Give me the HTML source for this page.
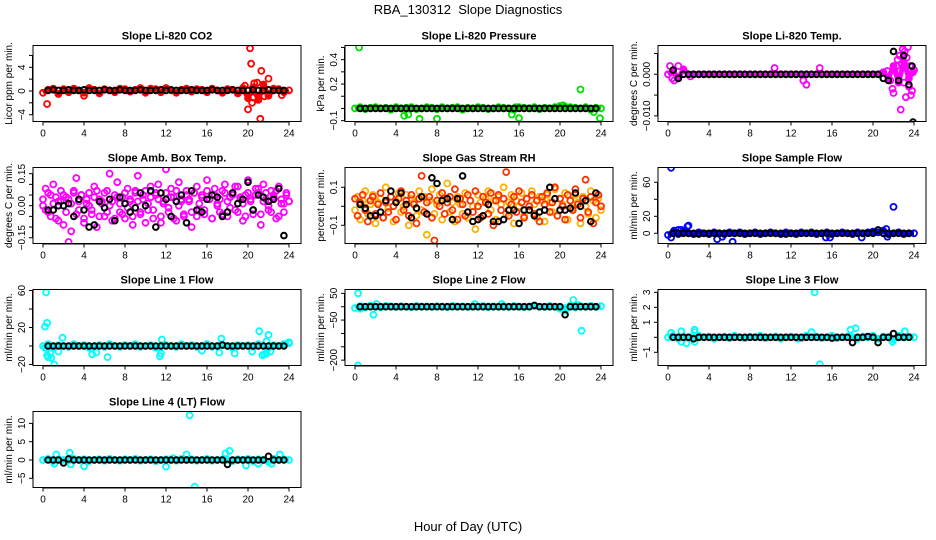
<!DOCTYPE html>
<html><head><meta charset="utf-8">
<style>
html,body{margin:0;padding:0;background:#fff;}
svg{display:block;font-family:"Liberation Sans",Arial,sans-serif;}
</style></head>
<body>
<svg id="chart" width="936" height="540" viewBox="0 0 936 540" xmlns="http://www.w3.org/2000/svg">
<rect width="936" height="540" fill="#fff"/>
<text x="468" y="14" font-size="13" text-anchor="middle">RBA_130312&#160; Slope Diagnostics</text>
<text x="468" y="531" font-size="13" text-anchor="middle">Hour of Day (UTC)</text>
</svg>
<script>
const xTicks=[0,4,8,12,16,20,24];

const co2Band=[-0.3,0.2,0.4,-0.5,0.3,-0.2,0.4,0.1,-0.3,0.5,0.2,-0.4,0.3,0.1,-0.2,0.4,0.3,-0.1,0.2,0.5,-0.3,0.4,0.3,-0.2,0.5,0.1,-0.3,0.2,0.4,-0.1,0.3,0.2,-0.2,0.4,0.1,-0.3,0.3,0.2,-0.4,0.5,-1.2,0.6,-1.5,1.1,-0.8,0.4,0.3,-0.2,0.1];
const co2Out=[[0.4,-2.2],[4,-0.8],[19.7,0.9],[20,-3.1],[20.2,7.2],[20.3,4.6],[20.4,-2],[20.5,-1.1],[20.6,1.3],[20.9,1.4],[21.2,-4.7],[21.3,3.4],[21.6,-0.9],[22,2.1],[23.3,-0.7]];
const co2Black=[0.1,0.2,0.1,0.1,0.2,0.1,0.1,0.2,0.1,0.1,0.1,0.2,0.1,0.1,0.2,0.1,0.1,0.1,0.2,0.1,0.1,0.1,0.2,0.1,0.2,0.1,0.1,0.1,0.2,0.1,0.1,0.1,0.2,0.1,0.1,0.1,0.2,0.1,0.1,0.1,0.2,0.1,0.1,0.2,0.1,0.1,0.1];

const presBand=[0.0,0.01,-0.005,0.005,0.01,0.0,0.005,-0.01,0.01,0.0,0.005,0.01,-0.005,0.0,0.01,0.005,-0.005,0.01,0.0,0.005,0.01,-0.01,0.005,0.0,0.01,0.005,-0.005,0.0,0.01,0.005,0.0,-0.01,0.01,0.005,0.0,0.01,-0.005,0.005,0.0,0.01,0.02,0.015,0.01,0.005,0.0,0.01,-0.01,0.005,0.0];
const presOut=[[0.4,0.5],[4.8,-0.06],[5.2,-0.05],[6.3,-0.085],[8,-0.085],[15.3,-0.05],[15.7,0.01],[16,-0.08],[20.3,0.025],[22,0.155],[23.3,-0.03],[23.9,-0.08]];
const presBlack=[0,0,0,0,0,0,0,0,0,0,0,0,0,0,0,0,0,0,0,0,0,0,0,0,0,0,0,0,0,0,0,0,0,0,0,0,0,0,0,0,0,0,0,0,0,0,0];

const ltBand=[0,0.0008,-0.001,0.0012,0,0,0,0,0,0,0,0,0,0,0,0,0,0,0,0,0,0,0,0,0,0,0,0,0,0,0,0,0,0,0,0,0,0,0,0,0,0,0.0005,-0.001,0.002,-0.002,0.003,-0.001,0.001];
const ltOut=[[0.2,0.002],[0.4,-0.001],[0.6,-0.0015],[1,0.002],[2.2,-0.0005],[10.4,0.0015],[13.2,-0.0015],[13.5,-0.0025],[14.8,0.0015],[21.4,0.0008],[21.7,-0.0015],[21.9,-0.0035],[22.0,-0.0045],[22.1,0.001],[22.3,0.002],[22.4,0.0035],[22.5,-0.0005],[22.6,0.0045],[22.7,-0.0085],[22.8,0.0025],[22.9,0.006],[23.0,-0.002],[23.1,0.0055],[23.2,-0.0055],[23.3,0.004],[23.4,0.0065],[23.5,-0.003],[23.6,0.002],[23.7,-0.005],[23.8,-0.004],[23.9,0.0005],[24,0.001]];
const ltBlack=[0.001,-0.001,0,0,0,0,0,0,0,0,0,0,0,0,0,0,0,0,0,0,0,0,0,0,0,0,0,0,0,0,0,0,0,0,0,0,0,0,0,0,0,-0.001,-0.0015,0.0055,-0.0015,0.0045,-0.0025];
const ltBlackOut=[[23.8,0.002],[23.9,-0.0115]];

const ambBand=[0.00,0.08,-0.03,0.05,0.10,-0.06,0.02,0.07,-0.09,0.04,0.03,-0.12,0.06,0.13,-0.02,0.05,-0.08,0.01,0.06,-0.04,0.09,-0.10,0.03,0.02,-0.05,0.07,0.00,-0.07,0.05,0.11,-0.03,0.04,-0.06,0.08,0.02,-0.09,0.06,0.14,-0.04,0.03,0.07,-0.02,0.09,-0.06,0.05,0.10,-0.08,0.01,0.06,-0.03,0.08,0.04,-0.07,0.11,0.02,-0.05,0.07,0.03,-0.10,0.06,0.09,-0.02,0.05,-0.04,0.12,0.03,-0.06,0.08,0.01,-0.03,0.07,0.10,-0.05,0.04,0.06,-0.02,0.09,0.03,-0.07,0.05,0.12,0.02,-0.04,0.08,0.06,-0.09,0.10,0.03,-0.02,0.07,0.05,-0.06,0.09,0.01,-0.03,0.06,0.02];
const ambBand2=[0.03,-0.02,0.06,-0.05,0.01,0.04,-0.07,0.02,0.05,-0.03,-0.17,0.01,0.07,-0.04,0.02,0.05,-0.06,0.03,0.00,-0.02,0.04,0.07,-0.05,0.01,0.06,-0.03,0.15,0.02,-0.06,0.04,0.01,-0.04,0.06,-0.01,0.03,-0.05,0.07,0.02,-0.03,0.05,-0.08,0.01,0.04,-0.02,0.06,0.03,-0.05,0.02,0.17,-0.01,0.04,-0.06,0.07,0.00,0.03,-0.04,0.05,0.02,-0.03,0.06,-0.05,0.01,0.04,-0.02,0.07,0.03,-0.06,0.05,0.00,0.03,-0.04,0.06,0.02,-0.01,0.05,0.09,-0.03,0.04,0.01,-0.05,0.06,0.03,-0.02,0.05,0.08,-0.04,0.02,0.06,0.00,-0.03,0.04,0.07,-0.05,0.03,0.01,0.05,0.02];
const ambBlack=[-0.02,-0.02,0.00,0.00,0.01,-0.05,0.03,-0.02,-0.10,-0.09,0.02,-0.01,0.03,-0.07,0.04,0.01,-0.03,-0.01,0.06,0.00,0.07,-0.10,0.06,0.03,-0.05,0.02,0.05,-0.08,0.07,-0.02,-0.03,0.03,0.05,0.04,-0.05,-0.03,0.06,0.01,0.03,0.11,-0.02,0.05,0.04,0.02,0.03,0.08,-0.14];

const rhBand=[-0.02,0.05,-0.07,0.03,0.08,-0.04,0.01,0.06,-0.09,0.02,0.04,-0.06,0.10,-0.01,0.05,-0.08,0.03,0.07,-0.03,0.00,0.06,-0.10,0.04,0.02,-0.05,0.08,-0.02,0.05,-0.15,0.03,0.09,-0.04,0.01,0.06,-0.07,0.04,0.12,-0.03,0.02,-0.08,0.05,0.01,-0.04,0.07,-0.06,0.03,0.00,-0.12,0.06,0.02,-0.05,0.04,0.08,-0.02,0.03,-0.07,0.05,0.01,0.10,-0.04,0.02,0.06,-0.09,0.03,0.00,0.07,-0.05,0.04,-0.02,0.08,0.01,-0.06,0.05,0.03,-0.08,0.06,0.02,-0.03,0.09,-0.05,0.04,0.01,0.07,-0.07,0.03,-0.01,0.06,0.02,-0.09,0.05,0.00,-0.04,0.08,0.03,-0.06,0.04,-0.02];
const rhBand2=[0.04,-0.05,0.02,0.06,-0.02,-0.08,0.03,0.05,-0.04,0.01,0.07,-0.06,0.02,-0.03,0.05,0.00,-0.07,0.04,0.08,-0.02,0.03,-0.05,0.06,0.01,-0.09,0.04,0.16,-0.03,0.02,0.05,-0.06,-0.18,0.03,0.00,0.07,-0.04,0.02,0.05,-0.02,0.09,-0.07,0.04,0.01,-0.05,0.06,0.03,-0.03,0.08,0.00,-0.06,0.05,0.02,-0.04,0.07,-0.10,0.03,0.06,-0.02,0.04,0.18,-0.05,0.01,0.05,-0.03,0.08,0.02,-0.06,0.04,0.00,0.06,-0.04,0.03,-0.08,0.05,0.01,0.07,-0.03,0.02,0.10,-0.05,0.04,0.00,-0.07,0.06,0.03,-0.02,0.09,0.01,-0.06,0.04,0.14,-0.03,0.05,-0.09,0.02,0.06,0.00];
const rhBlack=[0.01,-0.01,-0.05,-0.05,-0.03,0.03,0.08,0.02,0.07,0.01,-0.06,-0.01,0.05,-0.04,0.15,0.12,0.03,0.04,-0.07,0.04,0.16,-0.03,-0.08,-0.07,-0.05,0.01,-0.08,-0.08,-0.07,-0.02,-0.02,-0.09,-0.02,-0.02,-0.05,-0.03,-0.02,0.10,0.04,-0.02,-0.02,-0.01,0.07,0.00,0.03,-0.08,0.07];

const sfBand=[-2,1,-1,2,0,-1,1,0,-1,1,0,-1,1,0,1,-1,0,1,-1,0,1,0,-1,1,0,-1,1,0,1,-1,0,1,-1,0,1,0,-1,1,0,1,2,1,3,-1,0,1,-1,0,0];
const sfOut=[[0.3,77],[0.3,-5],[0.6,3],[1,4],[1.3,4],[1.9,8],[2,9],[4.8,-7],[5.3,-4],[6.3,-10],[15.4,-5],[15.8,-5],[18.9,-5],[21.3,5],[21.4,-4],[22,31]];
const sfBlack=[0,0,0,0,0,-1,0,0,0,0,0,0,0,0,0,0,0,0,0,0,0,0,-1,0,0,0,0,0,0,0,0,0,0,0,0,0,0,0,0,0,4,0,0,0,0,0,0];

const l1Band=[0,2,-2,1,0,-1,2,0,1,-2,0,1,-1,2,0,-1,1,0,2,-1,0,1,-2,0,1,0,-1,2,0,1,-1,0,2,-1,0,1,0,-2,1,0,1,-1,2,0,-2,1,0,2,3];
const l1Out=[[0.3,58],[0.4,25],[0.2,21],[0.2,-2],[0.4,-10],[0.5,-12],[0.7,-8],[0.8,-13],[1.1,-20],[1.5,-6],[1.9,9],[4.8,-9],[5.2,-7],[6.3,-12],[11.4,-11],[11.5,-8],[11.6,7],[15.5,-5],[17.2,-7],[17.4,8],[18.7,-8],[20.4,-6],[21.1,16],[21.4,-10],[21.6,-9],[21.8,5],[21.8,-8],[22,12],[22.2,-6],[24,4]];
const l1Black=[0,0,0,0,0,0,0,0,0,0,0,0,0,0,0,0,0,0,0,0,0,0,0,0,0,0,0,0,0,0,0,0,0,0,1,0,0,0,0,0,0,0,0,0,0,0,0];

const l2Band=[-5,2,-3,4,0,-2,3,1,-1,2,0,-2,3,0,1,-1,2,0,-2,3,0,1,-1,2,0,3,-2,1,0,2,-1,3,0,-2,1,2,0,-1,3,0,-8,-5,4,-3,2,0,3,-1,2];
const l2Out=[[0.3,50],[0.3,-220],[0.5,-8],[1.8,-30],[2.1,10],[11.7,10],[14.3,10],[20.5,-15],[21.3,25],[21.8,6],[22.1,-90]];
const l2Black=[0,0,0,0,0,0,0,0,0,0,0,0,0,0,0,0,0,0,0,0,0,0,0,0,0,0,0,0,0,0,0,0,0,0,5,0,0,0,0,0,-30,0,0,0,0,0,0];

const l3Band=[0,0.1,-0.1,0.05,0,-0.05,0.1,0,0.05,-0.1,0,0.05,-0.05,0.1,0,-0.05,0.05,0,0.1,-0.05,0,0.05,-0.1,0,0.05,0,-0.05,0.1,0,0.05,-0.05,0,0.1,-0.05,0,0.05,0,-0.1,0.05,0,0.1,-0.1,0.05,0,-0.15,0.1,0,0.05,0];
const l3Out=[[0.3,0.3],[1.3,0.4],[1.3,-0.3],[1.8,-0.4],[2.6,0.5],[2.6,0.35],[2.6,-0.3],[12.7,-0.1],[14,0.35],[14.3,3],[14.8,-1.8],[17.8,0.5],[18.3,0.6],[21.9,-0.3],[23.1,0.4]];
const l3Black=[0,0,0,0,-0.1,0,0,0,0,0,0,0,0,0,0,0,0,0,0,0,0,0,0,0,0,0,0,0,0,0,0,-0.05,0,0,0,-0.35,0,0,0.05,0,-0.35,0,0,0.25,0,0,0];

const l4Band=[0,0.3,-0.3,0.2,0,-0.2,0.3,0,0.2,-0.3,0,0.2,-0.2,0.3,0,-0.2,0.2,0,0.3,-0.2,0,0.2,-0.3,0,0.2,0,-0.2,0.3,0,0.2,-0.2,0,0.3,-0.2,0,0.2,0,-0.3,0.2,0,0.3,-0.3,0.2,0,-0.5,0.3,0,0.2,0];
const l4Out=[[1.1,-1],[1.3,1.5],[2.6,2],[2.7,-1.2],[4,-1.7],[12,-1.8],[12.7,0.5],[14,1.5],[14.3,12.2],[14.8,-7.3],[17.8,1.8],[18.2,2.5],[19.8,-1.5],[21,-1],[22.3,-1],[23.1,1.5]];
const l4Black=[0,0,0,-0.8,0.3,0,0,0,0,0,0,0,0,0,0,0,0,0,0,0,0,0,0,0,0,0,0,0,0,0,0,0,0,0,0,-1.2,0,0,0,0,0,0,0,1,0,0,0];

const panels=[
 {id:'co2',title:'Slope Li-820 CO2',ylab:'Licor ppm per min.',col:0,row:0,dom:[-5.15,7.68],ticks:[-4,-2,0,2,4,6],labels:[-4,0,4],fmt:v=>v,color:'#ff0000',bands:[co2Band],thick:true,out:co2Out,black:co2Black,blackOut:[]},
 {id:'pressure',title:'Slope Li-820 Pressure',ylab:'kPa per min.',col:1,row:0,dom:[-0.107,0.516],ticks:[-0.1,0,0.1,0.2,0.3,0.4,0.5],labels:[-0.1,0.2,0.4],fmt:v=>v.toFixed(1),color:'#00e000',bands:[presBand],thick:true,out:presOut,black:presBlack,blackOut:[]},
 {id:'li-temp',title:'Slope Li-820 Temp.',ylab:'degrees C per min.',col:2,row:0,dom:[-0.01135,0.00692],ticks:[-0.01,-0.005,0,0.005],labels:[-0.01,0],fmt:v=>v.toFixed(3),color:'#ff00ff',bands:[ltBand],thick:true,out:ltOut,black:ltBlack,blackOut:ltBlackOut},
 {id:'amb-temp',title:'Slope Amb. Box Temp.',ylab:'degrees C per min.',col:0,row:1,dom:[-0.177,0.179],ticks:[-0.15,-0.1,-0.05,0,0.05,0.1,0.15],labels:[-0.15,0,0.15],fmt:v=>v.toFixed(2),color:'#ff00ff',bands:[ambBand,ambBand2],thick:false,out:[],black:ambBlack,blackOut:[]},
 {id:'rh',title:'Slope Gas Stream RH',ylab:'percent per min.',col:1,row:1,dom:[-0.196,0.204],ticks:[-0.1,0,0.1],labels:[-0.1,0.1],fmt:v=>v.toFixed(1),color:'#ffb000',color2:'#ff3000',bands:[rhBand,rhBand2],thick:false,out:[],black:rhBlack,blackOut:[]},
 {id:'sample-flow',title:'Slope Sample Flow',ylab:'ml/min per min.',col:2,row:1,dom:[-12,77.4],ticks:[0,20,40,60],labels:[0,20,60],fmt:v=>v,color:'#0000ff',bands:[sfBand],thick:true,out:sfOut,black:sfBlack,blackOut:[]},
 {id:'line1-flow',title:'Slope Line 1 Flow',ylab:'ml/min per min.',col:0,row:2,dom:[-21.1,61.1],ticks:[-20,0,20,40,60],labels:[-20,20,60],fmt:v=>v,color:'#00ffff',bands:[l1Band],thick:true,out:l1Out,black:l1Black,blackOut:[]},
 {id:'line2-flow',title:'Slope Line 2 Flow',ylab:'ml/min per min.',col:1,row:2,dom:[-220,64.4],ticks:[-200,-150,-100,-50,0,50],labels:[-200,-50,50],fmt:v=>v,color:'#00ffff',bands:[l2Band],thick:true,out:l2Out,black:l2Black,blackOut:[]},
 {id:'line3-flow',title:'Slope Line 3 Flow',ylab:'ml/min per min.',col:2,row:2,dom:[-1.88,3.19],ticks:[-1,0,1,2,3],labels:[-1,1,2,3],fmt:v=>v,color:'#00ffff',bands:[l3Band],thick:true,out:l3Out,black:l3Black,blackOut:[]},
 {id:'line4-flow',title:'Slope Line 4 (LT) Flow',ylab:'ml/min per min.',col:0,row:3,dom:[-7.51,13.25],ticks:[-5,0,5,10],labels:[-5,0,5,10],fmt:v=>v,color:'#00ffff',bands:[l4Band],thick:true,out:l4Out,black:l4Black,blackOut:[]}
];

const NS='http://www.w3.org/2000/svg';
const svg=document.getElementById('chart');
function mk(tag,attrs,parent){const e=document.createElementNS(NS,tag);for(const k in attrs)e.setAttribute(k,attrs[k]);(parent||svg).appendChild(e);return e;}
const colLeft=[33,345,658], rowTop=[45.5,167.5,289.5,411.5], W=268, H=76;

panels.forEach(p=>{
  const L=colLeft[p.col], T=rowTop[p.row];
  const g=mk('g',{});
  
  
  const xs=t=>L+10+t*10.25;
  const ys=v=>T+H-(v-p.dom[0])/(p.dom[1]-p.dom[0])*H;
  const clip=mk('clipPath',{id:'clip-'+p.id},g);
  mk('rect',{x:L,y:T,width:W,height:H},clip);
  const marks=mk('g',{'clip-path':'url(#clip-'+p.id+')'},g);
  
  
  function pt(t,v,c,r,sw){const e=mk('circle',{cx:xs(t).toFixed(1),cy:ys(v).toFixed(1),r:r||2.8,fill:'none',stroke:c,'stroke-width':sw||1.7},marks);
    
    }
  p.bands.forEach((b,bi)=>{const c=(bi===1&&p.color2)?p.color2:p.color;
    if(p.thick){const pl=mk('polyline',{points:b.map((v,i)=>xs(i*24/(b.length-1)).toFixed(1)+','+ys(v).toFixed(1)).join(' '),fill:'none',stroke:c,'stroke-width':5,'stroke-linejoin':'round'},marks);
      
      }
    b.forEach((v,i)=>pt(i*24/(b.length-1),v,c,3,1.8));});
  p.out.forEach(o=>pt(o[0],o[1],p.color,3,1.8));
  p.black.forEach((v,i)=>pt(0.5+i*0.5,v,'#000',2.8,2));
  p.blackOut.forEach(o=>pt(o[0],o[1],'#000',2.8,2));
  const box=mk('rect',{x:L,y:T,width:W,height:H,fill:'none',stroke:'#000','stroke-width':1},g);
  
  
  const ttl=mk('text',{x:L+W/2,y:T-6,'font-size':11,'font-weight':'bold','text-anchor':'middle'},g);
  ttl.textContent=p.title;
  
  
  const xa=mk('g',{},g);
  
  
  mk('line',{x1:xs(0),x2:xs(24),y1:T+H+0.5,y2:T+H+0.5,stroke:'#000'},xa);
  xTicks.forEach(t=>{mk('line',{x1:xs(t),x2:xs(t),y1:T+H,y2:T+H+4,stroke:'#000'},xa);
    const tx=mk('text',{x:xs(t),y:T+H+15,'font-size':10,'text-anchor':'middle'},xa);tx.textContent=t;
    
    });
  const ya=mk('g',{},g);
  
  
  const t0=p.ticks[0], t1=p.ticks[p.ticks.length-1];
  mk('line',{x1:L-0.5,x2:L-0.5,y1:ys(t0),y2:ys(t1),stroke:'#000'},ya);
  p.ticks.forEach(v=>mk('line',{x1:L-4,x2:L,y1:ys(v),y2:ys(v),stroke:'#000'},ya));
  p.labels.forEach(v=>{const y=ys(v);const tx=mk('text',{x:0,y:0,'font-size':10,'text-anchor':'middle',transform:'translate('+(L-8)+','+y.toFixed(1)+') rotate(-90)'},ya);
    tx.textContent=String(p.fmt(v)).replace('-','\u2212');
    
    });
  const yl=mk('text',{x:0,y:0,'font-size':10,'text-anchor':'middle',transform:'translate('+(L-21)+','+(T+H/2)+') rotate(-90)'},g);
  yl.textContent=p.ylab;
  
  
});
</script>
</body></html>
